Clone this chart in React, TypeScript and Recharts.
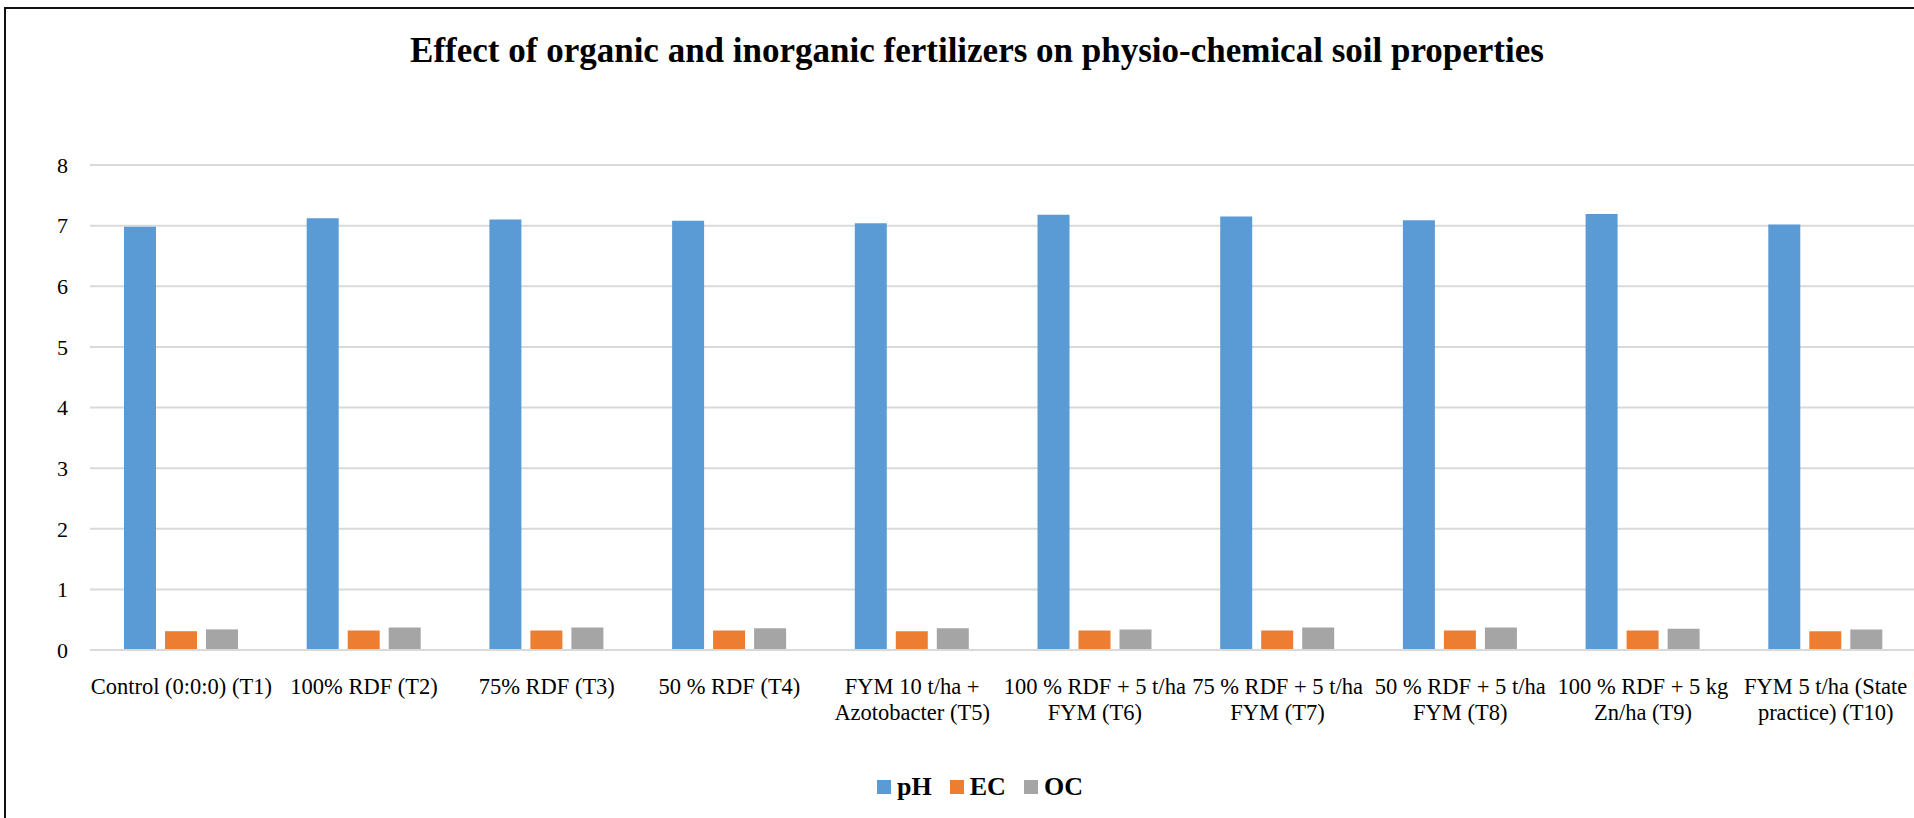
import React from 'react';
import { BarChart, Bar, XAxis, YAxis, CartesianGrid, Legend } from 'recharts';

// treatments, "\n" marks where the label wraps in the original
const treatments = [
  'Control (0:0:0) (T1)',
  '100% RDF (T2)',
  '75% RDF (T3)',
  '50 % RDF (T4)',
  'FYM 10 t/ha +\nAzotobacter (T5)',
  '100 % RDF + 5 t/ha\nFYM (T6)',
  '75 % RDF + 5 t/ha\nFYM (T7)',
  '50 % RDF + 5 t/ha\nFYM (T8)',
  '100 % RDF + 5 kg\nZn/ha (T9)',
  'FYM 5 t/ha (State\npractice) (T10)',
];

const phValues = [6.98, 7.12, 7.1, 7.08, 7.04, 7.18, 7.15, 7.09, 7.19, 7.02];
const ecValues = [0.31, 0.32, 0.32, 0.32, 0.31, 0.32, 0.32, 0.32, 0.32, 0.31];
const ocValues = [0.34, 0.37, 0.37, 0.36, 0.36, 0.34, 0.37, 0.37, 0.35, 0.34];

const yTicks = [0, 1, 2, 3, 4, 5, 6, 7, 8];

const seriesInfo = [
  { key: 'pH', color: '#5B9BD5' },
  { key: 'EC', color: '#ED7D31' },
  { key: 'OC', color: '#A5A5A5' },
];

const FONT = "'Liberation Serif', 'Times New Roman', serif";

const data = treatments.map((name, i) => ({
  name,
  pH: phValues[i],
  EC: ecValues[i],
  OC: ocValues[i],
}));

const CategoryTick = (props: any) => {
  const { x, y, payload } = props;
  const lines = String(payload.value).split('\n');
  return (
    <text x={x} y={y} textAnchor="middle" fontFamily={FONT} fontSize={22.5} fill="#000">
      {lines.map((l, i) => (
        <tspan key={i} x={x} dy={i === 0 ? 16 : 26}>
          {l}
        </tspan>
      ))}
    </text>
  );
};

const LegendBox = () => (
  <div
    style={{
      display: 'flex',
      justifyContent: 'center',
      alignItems: 'center',
      fontFamily: FONT,
      fontWeight: 'bold',
      fontSize: 26,
      color: '#000',
      lineHeight: '30px',
      paddingLeft: 6,
    }}
  >
    {seriesInfo.map((s) => (
      <div key={s.key} style={{ display: 'flex', alignItems: 'center', margin: '0 9px' }}>
        <span style={{ width: 14, height: 14, background: s.color, display: 'inline-block', marginRight: 6 }} />
        <span>{s.key}</span>
      </div>
    ))}
  </div>
);

export default function App() {
  const chartW = 1954;
  return (
    <div
      style={{
        position: 'absolute',
        left: 0,
        top: 0,
        width: 1914,
        height: 818,
        overflow: 'hidden',
        background: '#fff',
      }}
    >
      <div
        style={{
          position: 'absolute',
          left: 4,
          top: 7,
          width: 1946,
          height: 840,
          border: '2px solid #111',
        }}
      />
      <div
        style={{
          position: 'absolute',
          left: 0,
          top: 33,
          width: chartW,
          textAlign: 'center',
          fontFamily: FONT,
          fontWeight: 'bold',
          fontSize: 35,
          lineHeight: '35px',
          color: '#000',
        }}
      >
        Effect of organic and inorganic fertilizers on physio-chemical soil properties
      </div>
      <div style={{ position: 'absolute', left: 0, top: 0 }}>
        <BarChart
          width={chartW}
          height={818}
          data={data}
          margin={{ top: 165, right: 37, left: 30, bottom: 118 }}
          barSize={32}
          barGap={9}
        >
          <CartesianGrid vertical={false} stroke="#D9D9D9" strokeWidth={2} />
          <XAxis
            dataKey="name"
            interval={0}
            tick={<CategoryTick />}
            tickLine={false}
            tickSize={0}
            tickMargin={28}
            height={50}
            axisLine={{ stroke: '#D9D9D9', strokeWidth: 2 }}
          />
          <YAxis
            domain={[0, 8]}
            ticks={yTicks}
            width={60}
            tickLine={false}
            tickSize={0}
            tickMargin={22}
            axisLine={false}
            tick={{ fontFamily: FONT, fontSize: 22, fill: '#000' }}
          />
          <Legend
            layout="horizontal"
            verticalAlign="middle"
            align="center"
            wrapperStyle={{ top: 772, left: 0, width: chartW }}
            content={<LegendBox />}
          />
          {seriesInfo.map((s) => (
            <Bar key={s.key} dataKey={s.key} fill={s.color} isAnimationActive={false} />
          ))}
        </BarChart>
      </div>
    </div>
  );
}
